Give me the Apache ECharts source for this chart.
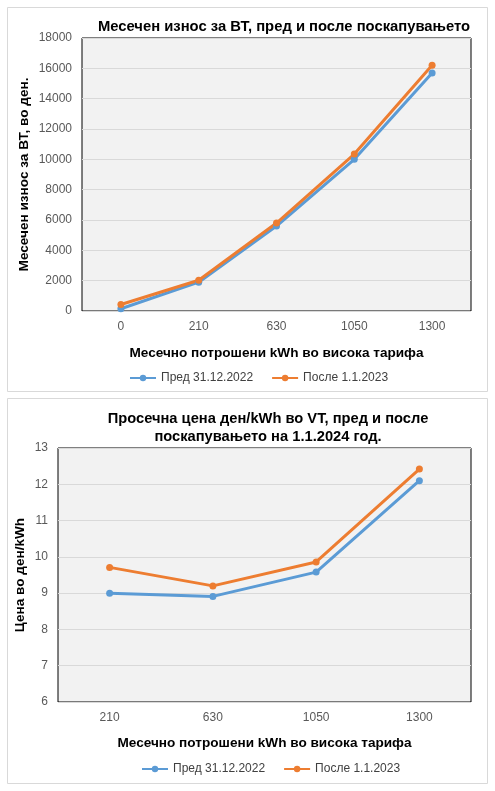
<!DOCTYPE html>
<html><head><meta charset="utf-8">
<script src="https://cdn.jsdelivr.net/npm/echarts@6/dist/echarts.min.js"></script>
<style>html,body{margin:0;padding:0;background:#fff}#c{width:495px;height:791px}</style>
</head><body><div id="c"></div>
<script>
const catsTop = ['0','210','630','1050','1300'];
const predTop = [150, 1900, 5600, 10000, 15700];
const posleTop = [430, 2030, 5800, 10350, 16200];
const catsBot = ['210','630','1050','1300'];
const predBot = [9.0, 8.91, 9.58, 12.1];
const posleBot = [9.71, 9.2, 9.86, 12.42];
const seriesNames = ['Пред 31.12.2022', 'После 1.1.2023'];
const colors = ['#5b9bd5', '#ed7d31'];

const FONT = '"Liberation Sans", Arial, sans-serif';
const chart = echarts.init(document.getElementById('c'), null, {renderer:'canvas'});
const tick = {color:'#595959', fontSize:12, fontFamily:FONT, formatter: v => String(v)};
const nameStyle = {color:'#000', fontSize:13.6, fontWeight:'bold', fontFamily:FONT};
function line(name, data, xi, ci){
  return {type:'line', name, data, xAxisIndex:xi, yAxisIndex:xi, symbol:'circle', symbolSize:7,
    lineStyle:{width:3, color:colors[ci]}, itemStyle:{color:colors[ci]}, animation:false, z:3};
}
chart.setOption({
  animation:false,
  graphic:[
    {type:'rect', shape:{x:7.5,y:7.5,width:480,height:384}, style:{fill:'#fff', stroke:'#d9d9d9', lineWidth:1}, z:-10},
    {type:'rect', shape:{x:7.5,y:398.5,width:480,height:385}, style:{fill:'#fff', stroke:'#d9d9d9', lineWidth:1}, z:-10}
  ],
  title:[
    {text:'Месечен износ за ВТ, пред и после поскапувањето', left:279, top:14, textAlign:'center',
     textStyle:{fontSize:14.8, fontWeight:'bold', color:'#000', fontFamily:FONT}},
    {text:'Просечна цена ден/kWh во VT, пред и после\nпоскапувањето на 1.1.2024 год.', left:263, top:405, textAlign:'center',
     textStyle:{fontSize:14.7, fontWeight:'bold', color:'#000', fontFamily:FONT, lineHeight:18}}
  ],
  legend:[
    {data:seriesNames, left:124, top:367, itemWidth:26, itemHeight:8, itemGap:18, textStyle:{color:'#404040', fontSize:12, fontFamily:FONT}, selectedMode:false},
    {data:seriesNames, left:136, top:758, itemWidth:26, itemHeight:8, itemGap:18, textStyle:{color:'#404040', fontSize:12, fontFamily:FONT}, selectedMode:false}
  ],
  grid:[
    {left:82, top:38, width:389, height:273, show:true, backgroundColor:'#f2f2f2', borderColor:'#000', borderWidth:1},
    {left:58, top:448, width:413, height:254, show:true, backgroundColor:'#f2f2f2', borderColor:'#000', borderWidth:1}
  ],
  xAxis:[
    {type:'category', gridIndex:0, data:catsTop, boundaryGap:true, axisLine:{show:false}, axisTick:{show:false},
     axisLabel:Object.assign({}, tick, {margin:10, formatter:null}), name:'Месечно потрошени kWh во висока тарифа', nameLocation:'middle', nameGap:35, nameTextStyle:nameStyle},
    {type:'category', gridIndex:1, data:catsBot, boundaryGap:true, axisLine:{show:false}, axisTick:{show:false},
     axisLabel:Object.assign({}, tick, {margin:10, formatter:null}), name:'Месечно потрошени kWh во висока тарифа', nameLocation:'middle', nameGap:34, nameTextStyle:nameStyle}
  ],
  yAxis:[
    {type:'value', gridIndex:0, min:0, max:18000, interval:2000, axisLine:{show:false}, axisTick:{show:false},
     axisLabel:Object.assign({margin:10}, tick), splitLine:{lineStyle:{color:'#d9d9d9'}},
     name:'Месечен износ за ВТ, во ден.', nameLocation:'middle', nameRotate:90, nameGap:51, nameMoveOverlap:false, nameTextStyle:nameStyle},
    {type:'value', gridIndex:1, min:6, max:13, interval:1, axisLine:{show:false}, axisTick:{show:false},
     axisLabel:Object.assign({margin:10}, tick), splitLine:{lineStyle:{color:'#d9d9d9'}},
     name:'Цена во ден/kWh', nameLocation:'middle', nameRotate:90, nameGap:31, nameMoveOverlap:false, nameTextStyle:nameStyle}
  ],
  series:[
    line(seriesNames[0], predTop, 0, 0),
    line(seriesNames[1], posleTop, 0, 1),
    line(seriesNames[0], predBot, 1, 0),
    line(seriesNames[1], posleBot, 1, 1)
  ]
});
</script></body></html>
